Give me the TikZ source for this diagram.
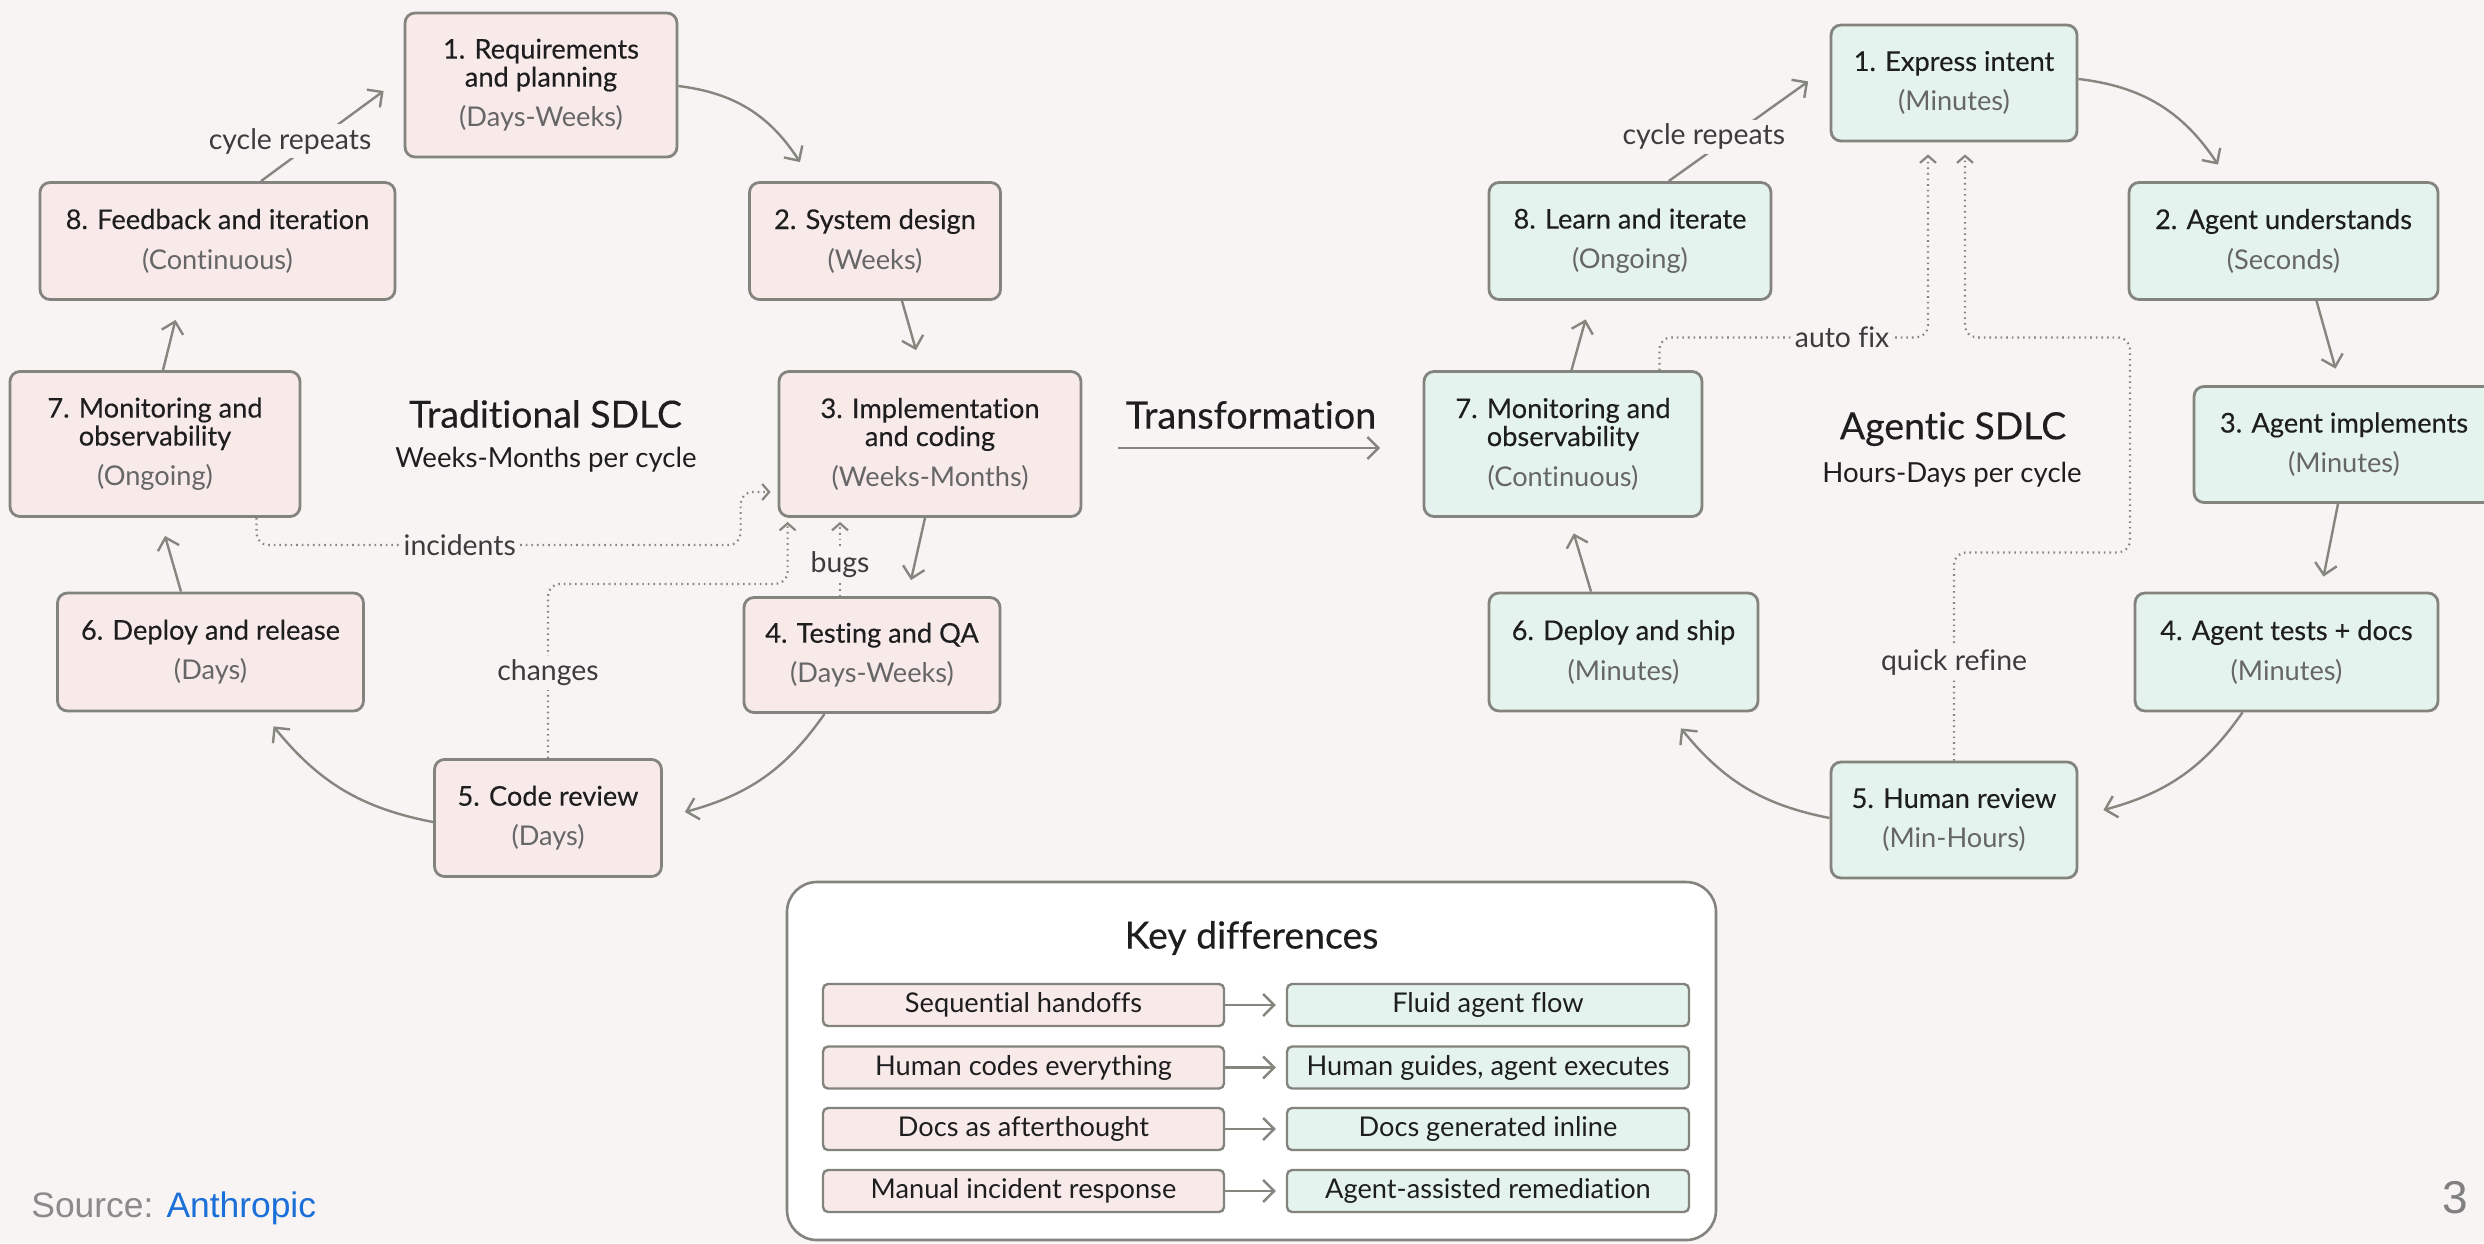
\documentclass[tikz,border=0pt]{standalone}
\usepackage{fontspec}
\setmainfont[Ligatures=NoCommon]{Lato}
\newfontfamily\medfont[FakeBold=0.3,Ligatures=NoCommon]{Lato}
\newfontfamily\srcfont{Liberation Sans}
\usetikzlibrary{arrows.meta,calc}
\definecolor{bgc}{HTML}{F7F4F3}
\definecolor{pinkf}{HTML}{F9EAEA}
\definecolor{greenf}{HTML}{E4F3EE}
\definecolor{bordc}{HTML}{84847E}
\definecolor{arrc}{HTML}{85867E}
\definecolor{txtc}{HTML}{1E1E1E}
\definecolor{subc}{HTML}{666666}
\definecolor{lblc}{HTML}{3C3C3C}
\definecolor{srcgray}{HTML}{8A8A8A}
\definecolor{srcblue}{HTML}{1A6FD8}
\definecolor{pgray}{HTML}{808080}
\newcommand\nf{\fontsize{13.6}{14}\selectfont}
\newcommand\stg[2]{#1\\[6pt]{\rmfamily\color{subc}#2}}
\begin{document}
\begin{tikzpicture}[x=0.5pt,y=-0.5pt,
  boxbase/.style={rounded corners=5pt, draw=bordc, line width=1.4pt, align=center, text=txtc, font=\nf\medfont, inner sep=0pt},
  pbox/.style={boxbase, fill=pinkf},
  gbox/.style={boxbase, fill=greenf},
  rowp/.style={rounded corners=2.5pt, draw=bordc, line width=1.2pt, fill=pinkf, text=txtc, font=\nf, inner sep=0pt, minimum height=21pt},
  rowg/.style={rowp, fill=greenf},
  arr/.style={draw=arrc, line width=1.2pt, -{Straight Barb[length=5.5pt,width=11pt]}},
  dotarr/.style={draw=arrc, line width=1.1pt, dash pattern=on 0.8pt off 2pt, rounded corners=6pt, -{Straight Barb[length=3.5pt,width=8pt]}},
  lbl/.style={fill=bgc, text=lblc, font=\fontsize{14.2}{16}\selectfont, inner sep=2pt},
  ttl/.style={text=txtc, font=\fontsize{18.7}{20}\medfont},
  sttl/.style={text=txtc, font=\fontsize{13.8}{15}\selectfont}
]
\useasboundingbox (0,0) rectangle (2484,1243);
\fill[bgc] (0,0) rectangle (2484,1243);
\clip (0,0) rectangle (2484,1243);

% ---------------- Traditional SDLC ----------------
\node[pbox, minimum width=136pt, minimum height=72pt] (L1) at (541,85) {\stg{1. Requirements\\and planning}{(Days-Weeks)}};
\node[pbox, minimum width=125.5pt, minimum height=58.5pt] (L2) at (875,241) {\stg{2. System design}{(Weeks)}};
\node[pbox, minimum width=151pt, minimum height=72.5pt] (L3) at (930,444) {\stg{3. Implementation\\and coding}{(Weeks-Months)}};
\node[pbox, minimum width=128pt, minimum height=57.5pt] (L4) at (872,655) {\stg{4. Testing and QA}{(Days-Weeks)}};
\node[pbox, minimum width=113.5pt, minimum height=58.5pt] (L5) at (548,818) {\stg{5. Code review}{(Days)}};
\node[pbox, minimum width=153pt, minimum height=59pt] (L6) at (210.5,652) {\stg{6. Deploy and release}{(Days)}};
\node[pbox, minimum width=145pt, minimum height=72.5pt] (L7) at (155,444) {\stg{7. Monitoring and\\observability}{(Ongoing)}};
\node[pbox, minimum width=177.5pt, minimum height=58.5pt] (L8) at (217.5,241) {\stg{8. Feedback and iteration}{(Continuous)}};

\node[ttl] (LT) at (545.5,414) {Traditional SDLC};
\node[sttl] (LS) at (546,460) {Weeks-Months per cycle};

\draw[arr] ($(L1.east)+(0,1)$) to[bend left=25] ($(L2.north)+(-75,-19)$);
\draw[arr] ($(L2.south)+(27,0)$) -- ($(L3.north)+(-14,-20)$);
\draw[arr] ($(L3.south)+(-5,0)$) -- ($(L4.north)+(39,-16)$);
\draw[arr] ($(L4.south)+(-47.5,0)$) to[bend left=20] ($(L5.east)+(22,-6)$);
\draw[arr] ($(L5.west)+(0,4)$) to[bend left=20] ($(L6.south)+(63,14)$);
\draw[arr] ($(L6.north)+(-29.5,0)$) -- ($(L7.south)+(10,18)$);
\draw[arr] ($(L7.north)+(8,0)$) -- ($(L8.south)+(-42,19)$);
\draw[arr] ($(L8.north)+(43.5,0)$) -- node[lbl, pos=0.4, xshift=-10pt, yshift=2pt] {cycle repeats} ($(L1.west)+(-20,6)$);

\draw[dotarr] ($(L7.south east)+(-45,0)$) |- node[lbl, pos=0.71] {incidents} ($(L3.west)+(-37,101)$) |- ($(L3.west)+(-7,48)$);
\draw[dotarr] (L5.north) |- node[lbl, pos=0.245] {changes} ($(L3.south west)+(10,66)$) -- ($(L3.south west)+(10,4)$);
\draw[dotarr] ($(L4.north)+(-32,0)$) -- node[lbl, pos=0.42] {bugs} ($(L3.south)+(-90,4)$);

% ---------------- Transformation ----------------
\coordinate (tA) at (1118,448);
\coordinate (tB) at (1380,448);
\draw[arr] (tA) -- (tB);
\node[text=txtc, font=\fontsize{18.9}{20}\medfont] (TR) at (1251,415) {Transformation};

% ---------------- Agentic SDLC ----------------
\node[gbox, minimum width=123pt, minimum height=58pt] (R1) at (1954,83) {\stg{1. Express intent}{(Minutes)}};
\node[gbox, minimum width=154.5pt, minimum height=58.5pt] (R2) at (2283.5,241) {\stg{2. Agent understands}{(Seconds)}};
\node[gbox, minimum width=150pt, minimum height=58pt] (R3) at (2344,444.5) {\stg{3. Agent implements}{(Minutes)}};
\node[gbox, minimum width=151.5pt, minimum height=59pt] (R4) at (2286.5,652) {\stg{4. Agent tests + docs}{(Minutes)}};
\node[gbox, minimum width=123pt, minimum height=58pt] (R5) at (1954,820) {\stg{5. Human review}{(Min-Hours)}};
\node[gbox, minimum width=134.5pt, minimum height=59pt] (R6) at (1623.5,652) {\stg{6. Deploy and ship}{(Minutes)}};
\node[gbox, minimum width=139pt, minimum height=72.5pt] (R7) at (1563,444) {\stg{7. Monitoring and\\observability}{(Continuous)}};
\node[gbox, minimum width=141pt, minimum height=58.5pt] (R8) at (1630,241) {\stg{8. Learn and iterate}{(Ongoing)}};

\node[ttl] (RT) at (1953,429) {Agentic SDLC};
\node[sttl] (RS) at (1952,475) {Hours-Days per cycle};

\draw[arr] ($(R1.east)+(0,-4)$) to[bend left=25] ($(R2.north)+(-65.5,-16.5)$);
\draw[arr] ($(R2.south)+(33,0)$) -- ($(R3.north)+(-8.5,-16.5)$);
\draw[arr] ($(R3.south)+(-6,0)$) -- ($(R4.north)+(37,-15)$);
\draw[arr] ($(R4.south)+(-44,0)$) to[bend left=20] ($(R5.east)+(25,-10)$);
\draw[arr] ($(R5.west)+(0,-2)$) to[bend left=20] ($(R6.south)+(57.5,16)$);
\draw[arr] ($(R6.north)+(-32.5,0)$) -- ($(R7.south)+(10.7,15.5)$);
\draw[arr] ($(R7.north)+(8.5,0)$) -- ($(R8.south)+(-44.4,18.5)$);
\draw[arr] ($(R8.north)+(38.7,0)$) -- node[lbl, pos=0.445, xshift=-13.5pt] {cycle repeats} ($(R1.west)+(-21.4,-1.6)$);

\draw[dotarr] ($(R7.north east)+(-44,0)$) |- node[lbl, pos=0.84] {auto fix} ($(R1.south)+(-26,195)$) -- ($(R1.south)+(-26,12)$);
\draw[dotarr] (R5.north) |- node[lbl, pos=0.235] {quick refine} ($(R1.south)+(176,410)$) -- ($(R1.south)+(176,195)$) -| ($(R1.south)+(11,12)$);

% ---------------- Key differences ----------------
\node[draw=bordc, line width=1.3pt, fill=white, rounded corners=15pt, minimum width=464.5pt, minimum height=179pt] (K) at (1251.5,1061) {};
\node[ttl] (KT) at (1251.5,938) {Key differences};

\node[rowp, minimum width=200.5pt] (a1) at (1023.5,1005) {Sequential handoffs};
\node[rowg, minimum width=201pt] (b1) at (1488,1005) {Fluid agent flow};
\node[rowp, minimum width=200.5pt] (a2) at (1023.5,1067.5) {Human codes everything};
\node[rowg, minimum width=201pt] (b2) at (1488,1067.5) {Human guides, agent executes};
\node[rowp, minimum width=200.5pt] (a3) at (1023.5,1129) {Docs as afterthought};
\node[rowg, minimum width=201pt] (b3) at (1488,1129) {Docs generated inline};
\node[rowp, minimum width=200.5pt] (a4) at (1023.5,1191) {Manual incident response};
\node[rowg, minimum width=201pt] (b4) at (1488,1191) {Agent-assisted remediation};
\foreach \i in {1,2,3,4} { \draw[arr, shorten >=5pt] (a\i) -- (b\i); }

% ---------------- footer ----------------
\node[anchor=base west, inner sep=0pt, font=\srcfont\fontsize{17.7}{20}\selectfont] (src) at (31,1217) {\color{srcgray}Source: \color{srcblue}Anthropic};
\node[anchor=base east, inner sep=0pt, text=pgray, font=\srcfont\fontsize{23}{26}\selectfont] (pg) at (2468,1213) {3};
\end{tikzpicture}
\end{document}
